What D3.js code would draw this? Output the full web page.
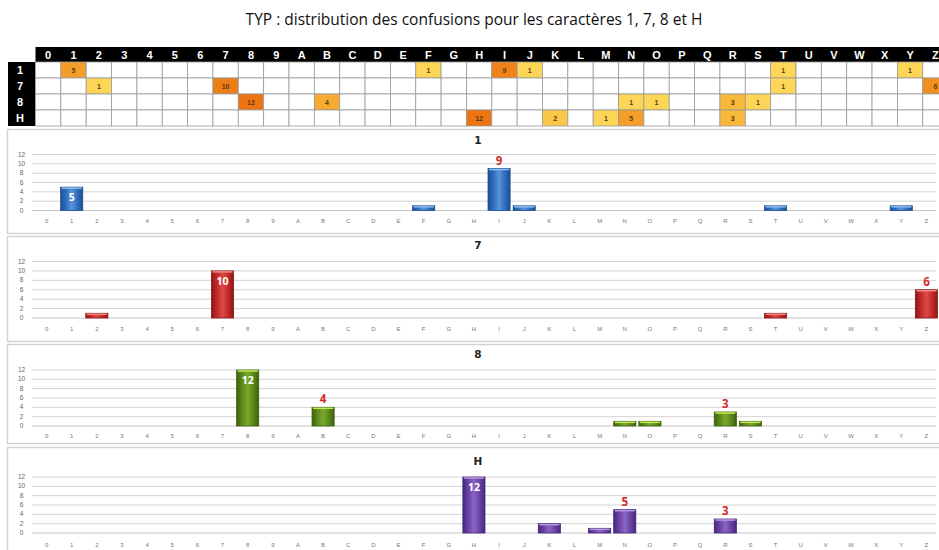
<!DOCTYPE html>
<html>
<head>
<meta charset="utf-8">
<script src="https://cdn.jsdelivr.net/npm/d3@7"></script>
<style>
  html, body { margin: 0; padding: 0; background: #ffffff; }
  svg { display: block; }
</style>
</head>
<body>
<svg id="chart" width="939" height="550"></svg>
<script>
// Characters that a recognised symbol can be confused with
const characters = ["0","1","2","3","4","5","6","7","8","9",
  "A","B","C","D","E","F","G","H","I","J","K","L","M",
  "N","O","P","Q","R","S","T","U","V","W","X","Y","Z"];

// Source characters studied (table rows / one panel each)
const sources = ["1", "7", "8", "H"];

// Confusion counts per source character (non-zero entries only)
const confusions1 = { "1": 5, "F": 1, "I": 9, "J": 1, "T": 1, "Y": 1 };
const confusions7 = { "2": 1, "7": 10, "T": 1, "Z": 6 };
const confusions8 = { "8": 12, "B": 4, "N": 1, "O": 1, "R": 3, "S": 1 };
const confusionsH = { "H": 12, "K": 2, "M": 1, "N": 5, "R": 3 };

const yTicks = [0, 2, 4, 6, 8, 10, 12];
const yMax = 12;

const titleText = "TYP : distribution des confusions pour les caractères 1, 7, 8 et H";

const countsBySource = { "1": confusions1, "7": confusions7, "8": confusions8, "H": confusionsH };

const svg = d3.select("#chart");
const defs = svg.append("defs");

// ---- Title ----
svg.append("text")
  .attr("x", 474).attr("y", 25)
  .attr("text-anchor", "middle")
  .attr("font-family", "'Open Sans', 'Noto Sans', sans-serif")
  .attr("font-size", 15.5)
  .attr("fill", "#111")
  .text(titleText);

// ---- Summary table ----
const colX = d3.scaleBand().domain(characters).range([35.5, 35.5 + 36 * 25.35]);
const rowY = d3.scaleBand().domain(sources).range([62, 126]);
const cellColor = d3.scaleLinear()
  .domain([1, 3, 6, 12])
  .range(["#fdd657", "#f9b83a", "#f2901f", "#ee7412"])
  .clamp(true);

const table = svg.append("g");

// header band
table.append("rect")
  .attr("x", colX.range()[0]).attr("y", 47)
  .attr("width", colX.range()[1] - colX.range()[0]).attr("height", 15)
  .attr("fill", "#000");
// row-label band
table.append("rect")
  .attr("x", 8).attr("y", rowY.range()[0])
  .attr("width", colX.range()[0] - 8).attr("height", rowY.range()[1] - rowY.range()[0])
  .attr("fill", "#000");

table.selectAll("text.colhead").data(characters).join("text")
  .attr("class", "colhead")
  .attr("x", d => colX(d) + colX.bandwidth() / 2)
  .attr("y", 58.5)
  .attr("text-anchor", "middle")
  .attr("font-family", "'Liberation Sans', Arial, sans-serif")
  .attr("font-weight", "bold")
  .attr("font-size", 11)
  .attr("fill", "#fff")
  .text(d => d);

table.selectAll("text.rowhead").data(sources).join("text")
  .attr("class", "rowhead")
  .attr("x", 20)
  .attr("y", d => rowY(d) + rowY.bandwidth() / 2 + 4)
  .attr("text-anchor", "middle")
  .attr("font-family", "'Liberation Sans', Arial, sans-serif")
  .attr("font-weight", "bold")
  .attr("font-size", 11)
  .attr("fill", "#fff")
  .text(d => d);

const cells = [];
sources.forEach(s => characters.forEach(c => {
  cells.push({ s, c, v: countsBySource[s][c] || 0 });
}));

table.selectAll("rect.cell").data(cells).join("rect")
  .attr("class", "cell")
  .attr("x", d => colX(d.c)).attr("y", d => rowY(d.s))
  .attr("width", colX.bandwidth()).attr("height", rowY.bandwidth())
  .attr("fill", d => d.v > 0 ? cellColor(d.v) : "#fff")
  .attr("stroke", "#9a9a9a").attr("stroke-width", 0.8);

table.selectAll("text.cellv").data(cells.filter(d => d.v > 0)).join("text")
  .attr("class", "cellv")
  .attr("x", d => colX(d.c) + colX.bandwidth() / 2)
  .attr("y", d => rowY(d.s) + rowY.bandwidth() / 2 + 2.5)
  .attr("text-anchor", "middle")
  .attr("font-family", "'Liberation Sans', Arial, sans-serif")
  .attr("font-weight", "bold")
  .attr("font-size", 7)
  .attr("fill", "#5a3a10")
  .text(d => d.v);

// ---- Bar panels ----
const panelColors = {
  "1": { dark: "#1d4f93", mid: "#2f6fbf", light: "#5a94dc", top: "#8fbdf0" },
  "7": { dark: "#8c1616", mid: "#c22a2a", light: "#de4a44", top: "#f08a80" },
  "8": { dark: "#3e5f0e", mid: "#5c8a1c", light: "#7aa82c", top: "#c4ec50" },
  "H": { dark: "#45277c", mid: "#6a44a6", light: "#8c66c6", top: "#b89ae4" }
};

// panel frames: top, bottom, title baseline, y at 12, y at 0, x-label baseline
const panelLayout = [
  { top: 129, bottom: 233, title: 144, y12: 154.5, y0: 210.5, xl: 223 },
  { top: 236, bottom: 341, title: 249, y12: 261.5, y0: 318, xl: 331 },
  { top: 344, bottom: 443, title: 358, y12: 370, y0: 426, xl: 438 },
  { top: 447, bottom: 553, title: 465, y12: 477, y0: 533, xl: 546.5 }
];

const x = d3.scaleBand().domain(characters).range([34, 939]).paddingInner(0.12).paddingOuter(0.06);

sources.forEach((src, i) => {
  const L = panelLayout[i];
  const col = panelColors[src];
  const g = svg.append("g");

  // frame
  g.append("rect")
    .attr("x", 7.5).attr("y", L.top + 0.5)
    .attr("width", 940).attr("height", L.bottom - L.top)
    .attr("fill", "#fff")
    .attr("stroke", "#d2d2d2").attr("stroke-width", 1.4);

  g.append("text")
    .attr("x", 478).attr("y", L.title)
    .attr("text-anchor", "middle")
    .attr("font-family", "'DejaVu Sans', sans-serif")
    .attr("font-weight", "bold")
    .attr("font-size", 10.5)
    .attr("fill", "#222")
    .text(src);

  const y = d3.scaleLinear().domain([0, yMax]).range([L.y0, L.y12]);

  // horizontal gridlines
  g.selectAll("line.grid").data(yTicks).join("line")
    .attr("class", "grid")
    .attr("x1", 32).attr("x2", 936)
    .attr("y1", d => y(d)).attr("y2", d => y(d))
    .attr("stroke", d => d === 0 ? "#c4c4c4" : "#d4d4d4")
    .attr("stroke-width", 1);

  // y axis labels
  g.selectAll("text.ytick").data(yTicks).join("text")
    .attr("class", "ytick")
    .attr("x", 21.5).attr("y", d => y(d) + 2)
    .attr("text-anchor", "middle")
    .attr("font-family", "'Liberation Sans', Arial, sans-serif")
    .attr("font-size", 6.5)
    .attr("fill", "#666")
    .text(d => d);

  // x axis labels
  g.selectAll("text.xtick").data(characters).join("text")
    .attr("class", "xtick")
    .attr("x", d => x(d) + x.bandwidth() / 2)
    .attr("y", L.xl)
    .attr("text-anchor", "middle")
    .attr("font-family", "'Liberation Sans', Arial, sans-serif")
    .attr("font-size", 6)
    .attr("fill", "#777")
    .text(d => d);

  // bar gradient (shaded column look)
  const gradId = "grad" + i;
  const grad = defs.append("linearGradient").attr("id", gradId)
    .attr("x1", "0%").attr("x2", "100%").attr("y1", "0%").attr("y2", "0%");
  grad.append("stop").attr("offset", "0%").attr("stop-color", col.dark);
  grad.append("stop").attr("offset", "25%").attr("stop-color", col.mid);
  grad.append("stop").attr("offset", "50%").attr("stop-color", col.light);
  grad.append("stop").attr("offset", "75%").attr("stop-color", col.mid);
  grad.append("stop").attr("offset", "100%").attr("stop-color", col.dark);

  const bars = characters
    .map(c => ({ c, v: countsBySource[src][c] || 0 }))
    .filter(d => d.v > 0);

  g.selectAll("rect.bar").data(bars).join("rect")
    .attr("class", "bar")
    .attr("x", d => x(d.c))
    .attr("y", d => y(d.v))
    .attr("width", x.bandwidth())
    .attr("height", d => y(0) - y(d.v))
    .attr("fill", `url(#${gradId})`)
    .attr("stroke", col.dark).attr("stroke-width", 0.8);

  // highlight along the bar top
  g.selectAll("line.bartop").data(bars).join("line")
    .attr("class", "bartop")
    .attr("x1", d => x(d.c) + 1).attr("x2", d => x(d.c) + x.bandwidth() - 1)
    .attr("y1", d => y(d.v) + 1).attr("y2", d => y(d.v) + 1)
    .attr("stroke", col.top).attr("stroke-width", 1.5);

  // value labels: the first labelled bar carries its value inside, the others above
  const labelled = bars.filter(d => d.v >= 3);
  labelled.forEach((d, k) => {
    const inside = k === 0;
    g.append("text")
      .attr("x", x(d.c) + x.bandwidth() / 2)
      .attr("y", inside ? y(d.v) + 14 : y(d.v) - 4)
      .attr("text-anchor", "middle")
      .attr("font-family", "'Open Sans', 'DejaVu Sans', sans-serif")
      .attr("font-weight", "bold")
      .attr("font-size", inside ? 10.5 : 11.5)
      .attr("fill", inside ? "#fff" : "#d42a2a")
      .text(d.v);
  });
});
</script>
</body>
</html>
